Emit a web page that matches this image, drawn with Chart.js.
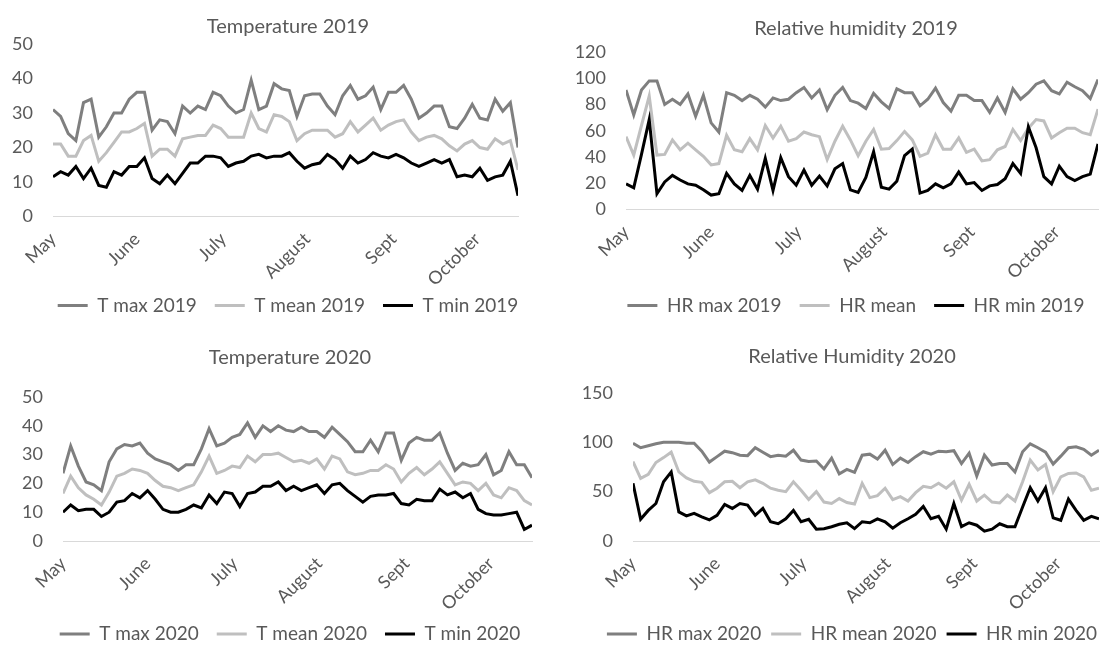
<!DOCTYPE html>
<html>
<head>
<meta charset="utf-8">
<title>Temperature and relative humidity, May - October 2019 / 2020</title>
<script src="https://cdn.jsdelivr.net/npm/chart.js@4.4.1/dist/chart.umd.min.js"></script>
<style>
  html, body { margin: 0; padding: 0; background: #ffffff; overflow: hidden; }
  body { width: 1105px; height: 651px; position: relative; }
  canvas { position: absolute; }
</style>
</head>
<body>
<canvas id="temp2019" width="576" height="325" style="left:0px;top:0px"></canvas>
<canvas id="hum2019" width="582" height="325" style="left:565px;top:0px"></canvas>
<canvas id="temp2020" width="580" height="326" style="left:0px;top:325px"></canvas>
<canvas id="hum2020" width="564" height="326" style="left:570px;top:325px"></canvas>
<script>
// Day of season (0 = 1 May), one reading every 3 days
const days = [0, 3, 6, 9, 12, 15, 18, 21, 24, 27, 30, 33, 36, 39, 42, 45, 48, 51, 54, 57,
  60, 63, 66, 69, 72, 75, 78, 81, 84, 87, 90, 93, 96, 99, 102, 105, 108, 111, 114, 117,
  120, 123, 126, 129, 132, 135, 138, 141, 144, 147, 150, 153, 156, 159, 162, 165, 168, 171, 174, 177,
  180, 183];

// Where the month names sit on the axis (day of season) and their text
const labelDays = [0, 33, 67, 100, 134, 167];
const monthLabels = ['May', 'June', 'July', 'August', 'Sept', 'October'];

// Temperature 2019 (°C)
const tMax2019 = [31, 29, 24, 22, 33, 34, 23, 26, 30, 30, 34, 36, 36, 25, 28, 27.5, 24, 32, 30, 32,
  31, 36, 35, 32, 30, 31, 39.5, 31, 32, 38.5, 37, 36.5, 29, 35, 35.5, 35.5, 32, 29.5, 35, 38,
  34, 35, 37.5, 31, 36, 36, 38, 34, 28.5, 30, 32, 32, 26, 25.5, 28.5, 32.5, 28.5, 28, 34, 30.5,
  33, 20];
const tMean2019 = [21, 21, 17.5, 17.5, 22, 23.5, 16, 18.5, 21.5, 24.5, 24.5, 25.5, 27, 17.5, 19.5, 19.5, 17.5, 22.5, 23, 23.5,
  23.5, 26.5, 25.5, 23, 23, 23, 30, 25.5, 24.5, 29.5, 29, 27.5, 22, 24, 25, 25, 25, 23, 24, 27.5,
  24.5, 26.5, 28.5, 25, 26.5, 27.5, 28, 24.5, 22, 23, 23.5, 22.5, 20.5, 19, 21, 22, 20, 19.5, 22.5, 21,
  22, 13.5];
const tMin2019 = [11.5, 13, 12, 14.5, 11, 14, 9, 8.5, 13, 12, 14.5, 14.5, 17, 11, 9.5, 12, 9.5, 12.5, 15.5, 15.5,
  17.5, 17.5, 17, 14.5, 15.5, 16, 17.5, 18, 17, 17.5, 17.5, 18.5, 16, 14, 15, 15.5, 18, 16.5, 14, 17.5,
  15.5, 16.5, 18.5, 17.5, 17, 18, 17, 15.5, 14.5, 15.5, 16.5, 15.5, 16.5, 11.5, 12, 11.5, 14, 10.5, 11.5, 12,
  16, 6];

// Relative humidity 2019 (%)
const hrMax2019 = [91, 72, 91, 98, 98, 80, 84, 80, 88, 71, 87, 66, 59, 89, 87, 83, 87, 84, 78, 85,
  83, 84, 89, 93, 85, 91, 76, 87, 93, 83, 81, 77, 88.5, 82, 77, 92, 89, 89, 79, 84,
  92.5, 81.5, 75, 87, 87, 83, 83, 74, 85, 74, 92, 84, 89, 95.5, 98, 90.5, 88, 97, 93.5, 90.5,
  84.5, 99];
const hrMean2019 = [55.5, 41.5, 64, 86.5, 41.5, 42, 53, 45.5, 50.5, 45.5, 40.5, 34, 35, 56.5, 45.5, 44, 54, 45.5, 64, 54.5,
  63.5, 52, 54, 59, 57, 55.5, 38, 52, 63.5, 53, 41, 52, 61, 46, 46.5, 52.5, 59.5, 53, 40.5, 43,
  57, 46, 46, 54.5, 43.5, 46, 37, 38, 45.5, 48, 61, 52.5, 62, 68.5, 67.5, 54.5, 58.5, 62, 62, 58.5,
  57, 76.5];
const hrMin2019 = [19.5, 16.5, 42, 68.5, 12, 21, 26, 22.5, 19.5, 18.5, 15, 11, 12, 27.5, 19.5, 14.5, 26, 15.5, 39, 14.5,
  39.5, 25, 18.5, 30, 18.5, 25.5, 18, 31, 35, 15, 13, 24.5, 44, 17, 15.5, 21.5, 41, 46, 12.5, 14.5,
  19.5, 16.5, 19.5, 28.5, 19.5, 20.5, 14.5, 18, 19, 23.5, 35, 27.5, 63, 47, 25, 19.5, 33, 25, 22, 25,
  27, 50];

// Temperature 2020 (°C)
const tMax2020 = [23.5, 33, 26, 20.5, 19.5, 17.5, 27.5, 32, 33.5, 33, 34, 30.5, 28.5, 27.5, 26.5, 24.5, 26.5, 26.5, 32, 39,
  33, 34, 36, 37, 41, 36, 40, 38, 40, 38.5, 38, 39.5, 38, 38, 36, 39.5, 37, 34.5, 31, 31,
  35, 31, 37.5, 37.5, 28, 34, 36, 35, 35, 37.5, 30.5, 24.5, 27, 26, 26.5, 30, 23, 24.5, 31, 26.5,
  26.5, 22];
const tMean2020 = [16.5, 22.5, 18.5, 16, 14.5, 12.5, 17, 22.5, 23.5, 25, 24.5, 23.5, 21, 19, 18.5, 17.5, 18.5, 19.5, 24, 29.5,
  23.5, 24.5, 26, 25.5, 29.5, 27.5, 30, 30, 30.5, 29, 27.5, 28, 27, 28.5, 25, 29.5, 28.5, 24, 23, 23.5,
  24.5, 24.5, 26.5, 25, 20.5, 23.5, 25.5, 23, 25, 27.5, 23.5, 19.5, 20.5, 20, 17.5, 20, 16, 15, 18.5, 17.5,
  14, 12.5];
const tMin2020 = [10, 12.5, 10.5, 11, 11, 8.5, 10, 13.5, 14, 16.5, 15, 17.5, 14.5, 11, 10, 10, 11, 12.5, 11.5, 16,
  13, 17, 16.5, 12, 16.5, 17, 19, 19, 20.5, 17.5, 19, 17.5, 18.5, 19.5, 16.5, 19.5, 20, 17.5, 15.5, 13.5,
  15.5, 16, 16, 16.5, 13, 12.5, 14.5, 14, 14, 18, 16, 17, 15, 16.5, 11, 9.5, 9, 9, 9.5, 10,
  4, 5.5];

// Relative humidity 2020 (%)
const hrMax2020 = [99, 94.5, 96.5, 98.5, 100, 100, 100, 99, 99, 91, 80, 85.5, 91, 89.5, 87, 86.5, 94.5, 90, 85.5, 87,
  86, 92, 82, 80.5, 81, 73, 84, 68, 72.5, 69.5, 87, 88, 83, 92, 77.5, 84, 79.5, 85.5, 90.5, 88,
  91, 90.5, 91.5, 78.5, 89, 66, 87, 77, 78.5, 78.5, 70, 90.5, 98.5, 94.5, 90, 78, 86, 94.5, 95.5, 93,
  87, 92];
const hrMean2020 = [80.5, 63.5, 67.5, 79.5, 84.5, 90, 70, 64, 60.5, 59.5, 49, 53.5, 60, 60.5, 54, 60, 62, 58.5, 53.5, 51.5,
  50, 60, 51.5, 42, 50, 39.5, 38, 43, 39, 37.5, 58.5, 44, 46, 53.5, 42, 45, 40.5, 49, 55.5, 54,
  58.5, 53.5, 60, 41.5, 57.5, 40.5, 46.5, 39.5, 38.5, 46.5, 40.5, 60, 82, 72, 77.5, 50, 65, 68.5, 69, 65,
  51.5, 53.5];
const hrMin2020 = [58.5, 22, 31, 38, 60, 70, 29.5, 25.5, 28, 24.5, 21.5, 26, 37, 33, 38, 36.5, 26, 33, 19.5, 17.5,
  22.5, 31, 19.5, 22, 12, 12.5, 14.5, 17, 18.5, 12.5, 19.5, 18.5, 22.5, 19.5, 13, 18.5, 22.5, 27, 35, 22.5,
  25, 12, 38, 14.5, 18.5, 16, 10, 12, 17.5, 14.5, 14.5, 34.5, 54, 40.5, 54, 23.5, 21, 42.5, 31, 21,
  25, 22.5];

const TEXT_COLOR = '#595959';
const MAX_COLOR = '#7f7f7f';
const MEAN_COLOR = '#bfbfbf';
const MIN_COLOR = '#000000';
const LEGEND_FONT = 19;

Chart.defaults.font.family = 'Lato';
Chart.defaults.color = TEXT_COLOR;

// Build one of the four small line charts
function buildPanel(p) {
    const canvas = document.getElementById(p.id);
    const colors = [MAX_COLOR, MEAN_COLOR, MIN_COLOR];
    const datasets = p.series.map((s, i) => ({
        label: s.label,
        data: days.map((d, j) => ({ x: d, y: s.values[j] })),
        borderColor: colors[i],
        backgroundColor: colors[i],
        borderWidth: 3,
        pointRadius: 0,
        pointHoverRadius: 0,
        tension: 0,
        order: 3 - i // black min line on top
    }));

    // legend box goes from legendTop to the canvas bottom, the x axis fills the gap above it
    const legendTop = p.legendY - p.legendPad - LEGEND_FONT / 2;
    const legendMax = canvas.height - legendTop;
    const xHeight = legendTop - p.chartBottom;

    return new Chart(canvas, {
        type: 'line',
        data: { datasets: datasets },
        options: {
            responsive: false,
            animation: false,
            events: [],
            layout: { padding: 0 },
            plugins: {
                title: {
                    display: true,
                    text: p.title,
                    color: TEXT_COLOR,
                    font: { size: 20, weight: 'normal' },
                    padding: p.titlePad
                },
                legend: {
                    position: 'bottom',
                    maxHeight: legendMax,
                    labels: {
                        usePointStyle: true,
                        pointStyle: 'line',
                        pointStyleWidth: 30,
                        padding: p.legendPad,
                        color: TEXT_COLOR,
                        font: { size: LEGEND_FONT },
                        sort: (a, b) => a.datasetIndex - b.datasetIndex
                    }
                },
                tooltip: { enabled: false }
            },
            scales: {
                x: {
                    type: 'linear',
                    min: 0,
                    max: 183,
                    grid: { display: false, drawTicks: false },
                    border: { display: true, color: '#d9d9d9', width: 1 },
                    afterBuildTicks: (scale) => {
                        scale.ticks = labelDays.map(v => ({ value: v }));
                    },
                    afterFit: (scale) => {
                        scale.height = xHeight;
                        scale.paddingRight = p.padRight;
                        // long rotated names may run into the legend band, don't cut them
                        scale._computeLabelArea = () => undefined;
                    },
                    ticks: {
                        autoSkip: false,
                        minRotation: 45,
                        maxRotation: 45,
                        padding: 12,
                        color: TEXT_COLOR,
                        font: { size: 18 },
                        callback: (value, index) => monthLabels[index]
                    }
                },
                y: {
                    min: 0,
                    max: p.yMax,
                    grid: { display: false, drawTicks: false },
                    border: { display: false },
                    afterFit: (scale) => {
                        scale.width = p.yWidth;
                    },
                    ticks: {
                        stepSize: p.yStep,
                        padding: 20,
                        color: TEXT_COLOR,
                        font: { size: 18 }
                    }
                }
            }
        }
    });
}

buildPanel({
    id: 'temp2019', title: 'Temperature 2019',
    yMax: 50, yStep: 10, yWidth: 53, padRight: 58, chartBottom: 214,
    titlePad: { top: 15, bottom: 5 }, legendY: 303, legendPad: 18,
    series: [
        { label: 'T max 2019', values: tMax2019 },
        { label: 'T mean 2019', values: tMean2019 },
        { label: 'T min 2019', values: tMin2019 }
    ]
});

buildPanel({
    id: 'hum2019', title: 'Relative humidity 2019',
    yMax: 120, yStep: 20, yWidth: 61, padRight: 49, chartBottom: 207,
    titlePad: { top: 17, bottom: 11 }, legendY: 303, legendPad: 18,
    series: [
        { label: 'HR max 2019', values: hrMax2019 },
        { label: 'HR mean', values: hrMean2019 },
        { label: 'HR min 2019', values: hrMin2019 }
    ]
});

buildPanel({
    id: 'temp2020', title: 'Temperature 2020',
    yMax: 50, yStep: 10, yWidth: 63, padRight: 48, chartBottom: 216,
    titlePad: { top: 21, bottom: 27 }, legendY: 309, legendPad: 18,
    series: [
        { label: 'T max 2020', values: tMax2020 },
        { label: 'T mean 2020', values: tMean2020 },
        { label: 'T min 2020', values: tMin2020 }
    ]
});

buildPanel({
    id: 'hum2020', title: 'Relative Humidity 2020',
    yMax: 150, yStep: 50, yWidth: 63, padRight: 35, chartBottom: 216,
    titlePad: { top: 20, bottom: 24 }, legendY: 309, legendPad: 10,
    series: [
        { label: 'HR max 2020', values: hrMax2020 },
        { label: 'HR mean 2020', values: hrMean2020 },
        { label: 'HR min 2020', values: hrMin2020 }
    ]
});
</script>
</body>
</html>
